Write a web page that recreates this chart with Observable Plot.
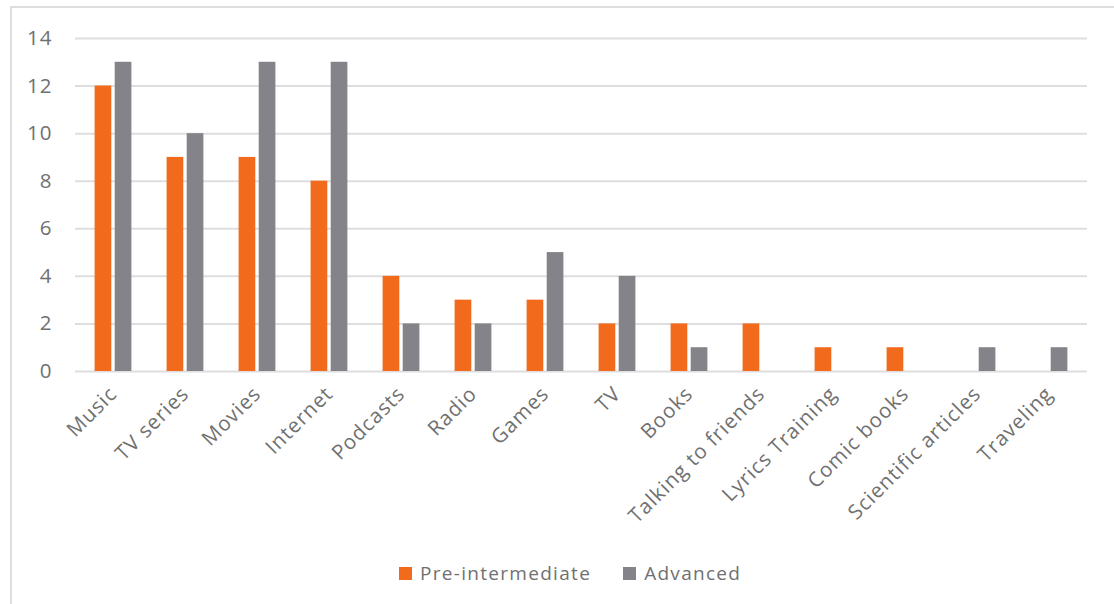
<!DOCTYPE html>
<html>
<head>
<meta charset="utf-8">
<script src="https://cdn.jsdelivr.net/npm/d3@7"></script>
<script src="https://cdn.jsdelivr.net/npm/@observablehq/plot@0.6"></script>
<style>
  html, body { margin: 0; padding: 0; background: #fff; }
  body { width: 1114px; height: 604px; position: relative; overflow: hidden; font-family: "Open Sans", sans-serif; }
  #frame { position: absolute; left: 10px; top: 6px; width: 1200px; height: 700px;
           border-left: 2px solid #dedede; border-top: 2px solid #dedede; pointer-events: none; }
  #chart { position: absolute; left: 0; top: 0; }
  #legend { position: absolute; left: 399px; top: 560px; display: flex; align-items: center;
            font-size: 19px; letter-spacing: 1.3px; color: #707070; white-space: nowrap; }
  .sw { width: 13px; height: 13px; display: inline-block; margin-right: 8px; }
  .item { display: flex; align-items: center; margin-right: 32px; }
</style>
</head>
<body>
<div id="chart"></div>
<div id="frame"></div>
<div id="legend"></div>
<script>
// Sources of English exposure, counted per student group
const categories = ["Music", "TV series", "Movies", "Internet", "Podcasts", "Radio", "Games", "TV",
  "Books", "Talking to friends", "Lyrics Training", "Comic books", "Scientific articles", "Traveling"];
const preIntermediate = [12, 9, 9, 8, 4, 3, 3, 2, 2, 2, 1, 1, 0, 0];
const advanced = [13, 10, 13, 13, 2, 2, 5, 4, 1, 0, 0, 0, 1, 1];
const seriesNames = ["Pre-intermediate", "Advanced"];
const seriesColors = ["#f26b1d", "#848389"];
const yTicks = [0, 2, 4, 6, 8, 10, 12, 14];

const rows = categories.map((c, i) => ({category: c, pre: preIntermediate[i], adv: advanced[i]}));

const chart = Plot.plot({
  width: 1114,
  height: 540,
  marginLeft: 75,
  marginRight: 27,
  marginTop: 38,
  marginBottom: 169,
  style: {background: "transparent", color: "#707070", fontFamily: "'Open Sans', sans-serif",
          fontSize: "20.5px", letterSpacing: "1px"},
  x: {domain: categories, padding: 0, label: null, tickSize: 0, tickRotate: -45, tickPadding: 19},
  y: {domain: [0, 14], ticks: yTicks, label: null, tickSize: 0, tickPadding: 23},
  marks: [
    Plot.ruleY(yTicks, {stroke: "#dedede", strokeWidth: 2}),
    Plot.barY(rows, {x: "category", y: "pre", fill: seriesColors[0], insetLeft: 17.6, insetRight: 37.7}),
    Plot.barY(rows, {x: "category", y: "adv", fill: seriesColors[1], insetLeft: 37.7, insetRight: 17.6})
  ]
});
document.getElementById("chart").appendChild(chart);

// Legend below the plot
const legend = d3.select("#legend");
seriesNames.forEach((name, i) => {
  const item = legend.append("div").attr("class", "item");
  item.append("span").attr("class", "sw").style("background", seriesColors[i]);
  item.append("span").text(name);
});
</script>
</body>
</html>
